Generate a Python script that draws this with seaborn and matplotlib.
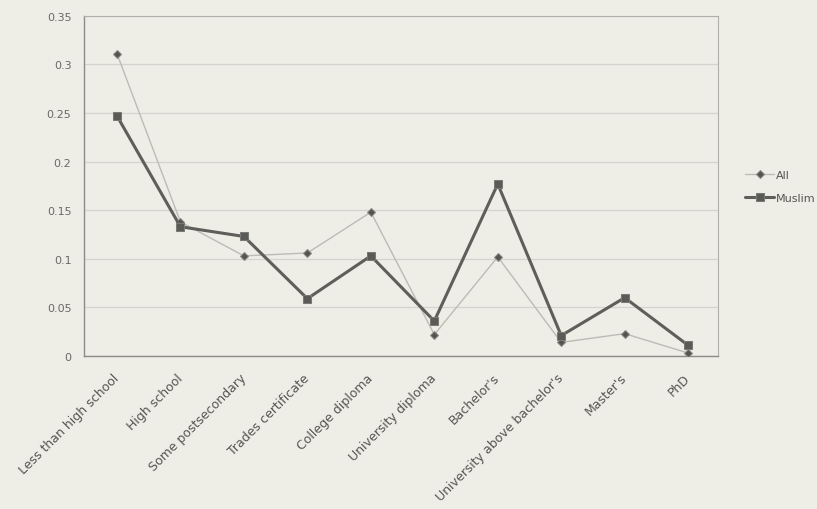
import matplotlib
matplotlib.use("Agg")
import matplotlib.pyplot as plt
import seaborn as sns
import pandas as pd

categories = [
    "Less than high school", "High school", "Some postsecondary",
    "Trades certificate", "College diploma", "University diploma",
    "Bachelor's", "University above bachelor's", "Master's", "PhD",
]
all_share = [0.311, 0.138, 0.103, 0.106, 0.148, 0.022, 0.102, 0.014, 0.023, 0.003]
muslim_share = [0.247, 0.133, 0.123, 0.059, 0.103, 0.036, 0.177, 0.021, 0.060, 0.011]
y_ticks = [0, 0.05, 0.1, 0.15, 0.2, 0.25, 0.3, 0.35]
y_tick_labels = ["0", "0.05", "0.1", "0.15", "0.2", "0.25", "0.3", "0.35"]

bg = "#eeede6"
sns.set_theme(style="white")
plt.rcParams["font.family"] = ["DejaVu Sans"]

df = pd.DataFrame({
    "pos": list(range(len(categories))) * 2,
    "share": all_share + muslim_share,
    "group": ["All"] * len(categories) + ["Muslim"] * len(categories),
})

fig = plt.figure(figsize=(8.17, 5.10), dpi=100, facecolor=bg)
ax = fig.add_axes([0.1028, 0.30, 0.776, 0.667])
ax.set_facecolor(bg)

sns.lineplot(data=df[df.group == "All"], x="pos", y="share", ax=ax,
             color="#bcbcb6", linewidth=1.0, marker="D", markersize=3.5,
             markerfacecolor="#55554f", markeredgecolor="#8a8a84",
             sort=False, label="All", zorder=3)
sns.lineplot(data=df[df.group == "Muslim"], x="pos", y="share", ax=ax,
             color="#5e5e5a", linewidth=2.2, marker="s", markersize=7,
             markerfacecolor="#5a5a56", markeredgecolor="#7a7a74",
             sort=False, label="Muslim", zorder=4)

ax.set_xlim(-0.52, 9.47)
ax.set_ylim(0, 0.35)
ax.set_yticks(y_ticks)
ax.set_yticklabels(y_tick_labels, fontsize=8, color="#6a6a66")
ax.set_xticks(range(len(categories)))
ax.set_xticklabels(categories, rotation=45, ha="right", va="center",
                   rotation_mode="anchor", fontsize=9, color="#555552")
ax.tick_params(axis="y", length=0, pad=9)
ax.tick_params(axis="x", length=0, pad=14)
ax.set_xlabel("")
ax.set_ylabel("")

ax.yaxis.grid(True, color="#d4d4ce", linewidth=0.9)
ax.set_axisbelow(True)

for side in ["left", "bottom"]:
    ax.spines[side].set_color("#8c8c88")
    ax.spines[side].set_linewidth(1.0)
for side in ["top", "right"]:
    ax.spines[side].set_color("#b0b0aa")
    ax.spines[side].set_linestyle((0, (1, 1)))
    ax.spines[side].set_linewidth(0.8)

ax.legend_.remove()
handles, labels = ax.get_legend_handles_labels()
for h in handles:
    h.set_markersize(4 if h.get_label() == "All" else 5.5)
fig.legend(handles, labels, loc="center left", bbox_to_anchor=(0.912, 0.632),
           frameon=False, fontsize=8, handlelength=2.6, handletextpad=0.15,
           labelspacing=1.15, borderpad=0, borderaxespad=0,
           labelcolor="#555552")

fig.savefig("out.png", dpi=100, facecolor=bg)
